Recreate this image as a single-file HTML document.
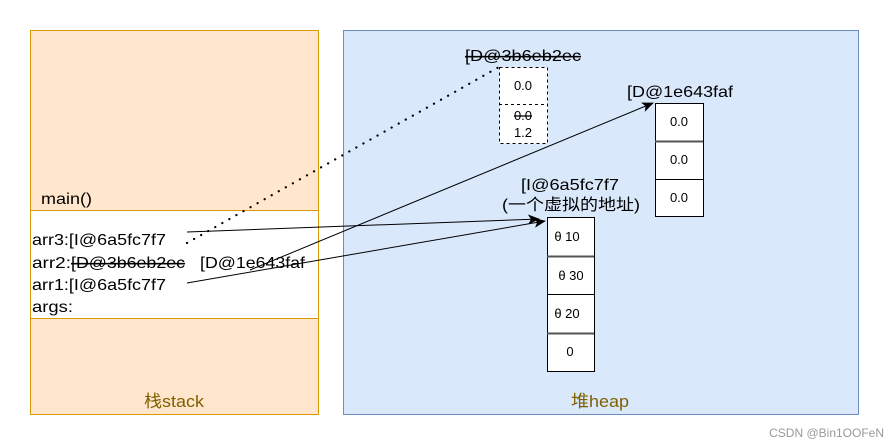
<!DOCTYPE html>
<html><head><meta charset="utf-8"><style>body{margin:0;background:#fff}svg{display:block}text{font-family:"Liberation Sans","Noto Sans CJK SC",sans-serif}</style></head>
<body>
<svg width="890" height="446" viewBox="0 0 890 446" xmlns="http://www.w3.org/2000/svg">
<defs><marker id="a" markerWidth="12" markerHeight="10" refX="11" refY="5" orient="auto" markerUnits="userSpaceOnUse"><path d="M0,0 L12,5 L0,10 L3,5z" fill="#000"/></marker></defs>
<rect x="30.5" y="30.5" width="288" height="384" fill="#ffe6cc" stroke="#d79b00"/>
<rect x="30.5" y="210.5" width="288" height="108" fill="#fff" stroke="#d79b00"/>
<text x="41" y="204" font-size="16" textLength="51" lengthAdjust="spacingAndGlyphs">main()</text>
<g font-size="16">
<text x="32" y="245" textLength="134" lengthAdjust="spacingAndGlyphs">arr3:[I@6a5fc7f7</text>
<text x="32" y="268" textLength="39" lengthAdjust="spacingAndGlyphs">arr2:</text>
<text x="71" y="268" textLength="114" lengthAdjust="spacingAndGlyphs" text-decoration="line-through">[D@3b6eb2ec</text>
<text x="200" y="268" textLength="105" lengthAdjust="spacingAndGlyphs">[D@1e643faf</text>
<text x="32" y="290" textLength="134" lengthAdjust="spacingAndGlyphs">arr1:[I@6a5fc7f7</text>
<text x="32" y="312" textLength="41" lengthAdjust="spacingAndGlyphs">args:</text>
</g>
<text x="144" y="407" font-size="17" fill="#7f6000" textLength="60" lengthAdjust="spacingAndGlyphs">栈stack</text>
<rect x="343.5" y="30.5" width="515" height="384" fill="#dae8fc" stroke="#6c8ebf"/>
<text x="571" y="407" font-size="17" fill="#7f6000" textLength="58" lengthAdjust="spacingAndGlyphs">堆heap</text>
<rect x="499.5" y="67.5" width="48" height="76" fill="#fff" stroke="#000" stroke-dasharray="3,3"/>
<line x1="499" y1="104.5" x2="547" y2="104.5" stroke="#000" stroke-dasharray="3,3"/>
<text x="465" y="61" font-size="16" textLength="116" lengthAdjust="spacingAndGlyphs" text-decoration="line-through">[D@3b6eb2ec</text>
<g font-size="13" text-anchor="middle">
<text x="523" y="90">0.0</text>
<text x="523" y="120" text-decoration="line-through">0.0</text>
<text x="523" y="137">1.2</text>
</g>
<rect x="655.5" y="103.5" width="48" height="113" fill="#fff" stroke="#000"/>
<line x1="655" y1="141.5" x2="703" y2="141.5" stroke="#555" stroke-width="2"/>
<line x1="655" y1="179.5" x2="703" y2="179.5" stroke="#000"/>
<text x="627" y="97" font-size="16" textLength="106" lengthAdjust="spacingAndGlyphs">[D@1e643faf</text>
<g font-size="13" text-anchor="middle"><text x="679" y="126">0.0</text><text x="679" y="164">0.0</text><text x="679" y="202">0.0</text></g>
<rect x="547.5" y="217.5" width="47" height="154" fill="#fff" stroke="#000"/>
<line x1="547" y1="256.5" x2="594" y2="256.5" stroke="#555" stroke-width="2"/>
<line x1="547" y1="294.5" x2="594" y2="294.5" stroke="#000"/>
<line x1="547" y1="333.5" x2="594" y2="333.5" stroke="#555" stroke-width="2"/>
<text x="521" y="190" font-size="16" textLength="98" lengthAdjust="spacingAndGlyphs">[I@6a5fc7f7</text>
<text x="502" y="210" font-size="16" textLength="138" lengthAdjust="spacingAndGlyphs">(一个虚拟的地址)</text>
<g font-size="13" text-anchor="middle"><text x="567" y="241">θ 10</text><text x="571" y="280">θ 30</text><text x="567" y="318">θ 20</text><text x="570" y="356">0</text></g>
<line x1="187" y1="243" x2="499" y2="67" stroke="#000" stroke-width="2.2" stroke-dasharray="0.1,8" stroke-linecap="round"/>
<line x1="187" y1="232" x2="539" y2="219" stroke="#000" marker-end="url(#a)"/>
<line x1="187" y1="283" x2="545" y2="221" stroke="#000" marker-end="url(#a)"/>
<line x1="250" y1="270" x2="653" y2="103" stroke="#000" marker-end="url(#a)"/>
<text x="884" y="437" font-size="12" fill="#999" text-anchor="end">CSDN @Bin1OOFeN</text>
</svg>
</body></html>
